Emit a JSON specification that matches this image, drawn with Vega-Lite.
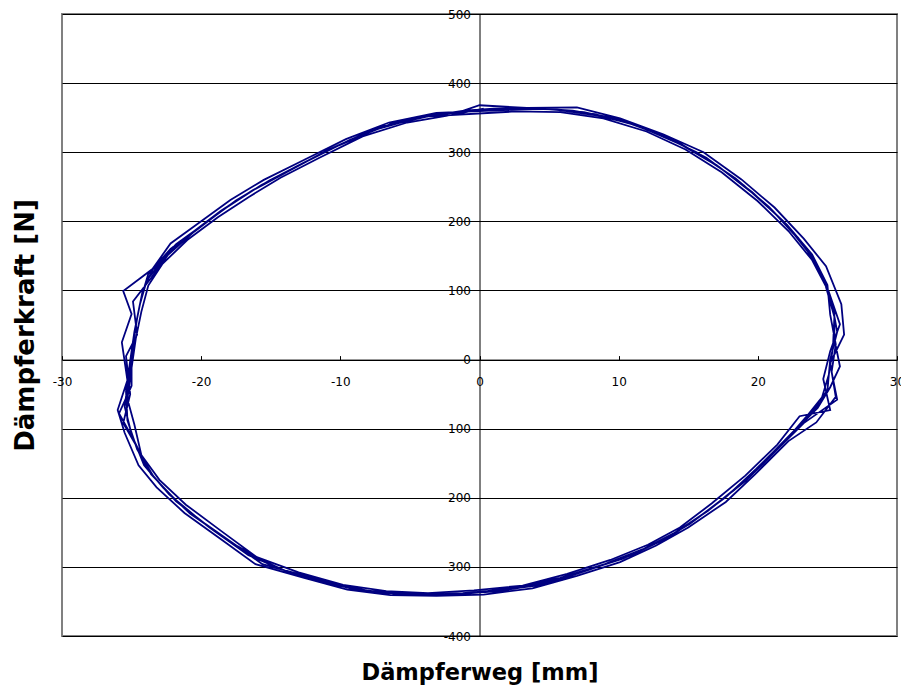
{
  "$schema": "https://vega.github.io/schema/vega-lite/v6.json",
  "width": 835,
  "height": 622,
  "autosize": "none",
  "padding": {"left": 62, "top": 14, "right": 4, "bottom": 54},
  "background": "white",
  "config": {"view": {"stroke": "#808080", "strokeWidth": 2}, "font": "DejaVu Sans"},
  "data": {"values": [
    {"x":0.2,"y":362},{"x":3.6,"y":364},{"x":6.7,"y":360},{"x":9.8,"y":349},{"x":12.9,"y":326},{"x":15.6,"y":300},{"x":18.4,"y":262},{"x":20.8,"y":221},{"x":22.9,"y":176},{"x":24.3,"y":136},{"x":25.3,"y":85},{"x":25.7,"y":40},{"x":25.2,"y":0},{"x":25.0,"y":-45},{"x":23.6,"y":-80},{"x":22.3,"y":-110},{"x":19.9,"y":-158},{"x":17.7,"y":-199},{"x":15.1,"y":-238},{"x":12.9,"y":-264},{"x":10.3,"y":-288},{"x":7.2,"y":-308},{"x":4.1,"y":-327},{"x":0.5,"y":-336},{"x":-2.9,"y":-340},{"x":-6.0,"y":-339},{"x":-9.1,"y":-332},{"x":-12.2,"y":-315},{"x":-15.6,"y":-296},{"x":-18.0,"y":-262},{"x":-20.8,"y":-223},{"x":-22.7,"y":-186},{"x":-24.1,"y":-153},{"x":-25.0,"y":-108},{"x":-25.5,"y":-68},{"x":-25.2,"y":-25},{"x":-24.9,"y":20},{"x":-24.6,"y":60},{"x":-24.2,"y":100},{"x":-23.5,"y":130},{"x":-21.8,"y":167},{"x":-19.6,"y":199},{"x":-17.5,"y":230},{"x":-15.1,"y":259},{"x":-12.5,"y":286},{"x":-9.3,"y":318},{"x":-6.2,"y":342},{"x":-2.9,"y":355},
    {"x":1.9,"y":364},{"x":5.2,"y":362},{"x":8.3,"y":355},{"x":11.4,"y":338},{"x":14.3,"y":314},{"x":17.0,"y":282},{"x":19.6,"y":242},{"x":21.9,"y":199},{"x":23.6,"y":156},{"x":24.8,"y":112},{"x":25.5,"y":62},{"x":25.4,"y":18},{"x":25.1,"y":-22},{"x":24.5,"y":-62},{"x":23.0,"y":-95},{"x":21.1,"y":-134},{"x":18.8,"y":-180},{"x":16.4,"y":-219},{"x":14.0,"y":-251},{"x":11.6,"y":-276},{"x":8.8,"y":-298},{"x":5.6,"y":-318},{"x":2.3,"y":-332},{"x":-1.2,"y":-338},{"x":-4.5,"y":-341},{"x":-7.6,"y":-336},{"x":-10.6,"y":-324},{"x":-13.9,"y":-306},{"x":-16.8,"y":-280},{"x":-19.4,"y":-243},{"x":-21.8,"y":-205},{"x":-23.4,"y":-170},{"x":-24.6,"y":-130},{"x":-25.3,"y":-88},{"x":-25.4,"y":-46},{"x":-25.1,"y":-2},{"x":-24.8,"y":40},{"x":-24.4,"y":80},{"x":-23.9,"y":115},{"x":-22.6,"y":149},{"x":-20.7,"y":183},{"x":-18.6,"y":215},{"x":-16.3,"y":245},{"x":-13.8,"y":272},{"x":-10.9,"y":303},{"x":-7.8,"y":331},{"x":-4.6,"y":349},{"x":-1.3,"y":359},
    {"x":0.0,"y":368},{"x":3.4,"y":364},{"x":7.0,"y":365},{"x":10.1,"y":349},{"x":13.2,"y":326},{"x":16.1,"y":300},{"x":18.8,"y":261},{"x":21.2,"y":220},{"x":23.3,"y":175},{"x":24.9,"y":135},{"x":26.0,"y":80},{"x":26.2,"y":36},{"x":25.2,"y":-5},{"x":25.6,"y":-54},{"x":24.2,"y":-91},{"x":22.2,"y":-118},{"x":19.8,"y":-166},{"x":17.7,"y":-206},{"x":15.0,"y":-243},{"x":12.7,"y":-269},{"x":10.1,"y":-293},{"x":7.0,"y":-313},{"x":3.8,"y":-331},{"x":0.3,"y":-340},{"x":-3.1,"y":-342},{"x":-6.4,"y":-341},{"x":-9.5,"y":-333},{"x":-12.6,"y":-316},{"x":-16.1,"y":-296},{"x":-18.5,"y":-261},{"x":-21.2,"y":-222},{"x":-23.2,"y":-185},{"x":-24.5,"y":-153},{"x":-25.5,"y":-106},{"x":-26.0,"y":-73},{"x":-25.3,"y":-30},{"x":-25.7,"y":25},{"x":-25.0,"y":66},{"x":-25.6,"y":99},{"x":-23.5,"y":131},{"x":-22.2,"y":168},{"x":-20.0,"y":200},{"x":-17.9,"y":231},{"x":-15.5,"y":260},{"x":-12.8,"y":287},{"x":-9.6,"y":319},{"x":-6.5,"y":343},{"x":-3.1,"y":357},
    {"x":1.7,"y":361},{"x":5.0,"y":363},{"x":8.5,"y":353},{"x":11.2,"y":340},{"x":14.5,"y":311},{"x":17.2,"y":279},{"x":19.8,"y":238},{"x":22.1,"y":195},{"x":23.9,"y":152},{"x":25.0,"y":108},{"x":25.2,"y":65},{"x":25.6,"y":22},{"x":25.3,"y":-18},{"x":25.7,"y":-58},{"x":23.3,"y":-92},{"x":21.4,"y":-130},{"x":19.1,"y":-176},{"x":16.6,"y":-216},{"x":14.2,"y":-249},{"x":11.8,"y":-274},{"x":9.0,"y":-296},{"x":5.8,"y":-316},{"x":2.5,"y":-330},{"x":-1.0,"y":-339},{"x":-4.3,"y":-340},{"x":-7.4,"y":-337},{"x":-10.4,"y":-326},{"x":-13.7,"y":-308},{"x":-16.6,"y":-283},{"x":-19.2,"y":-246},{"x":-21.6,"y":-208},{"x":-23.6,"y":-166},{"x":-24.4,"y":-134},{"x":-25.6,"y":-92},{"x":-25.1,"y":-50},{"x":-25.4,"y":5},{"x":-24.6,"y":36},{"x":-24.9,"y":84},{"x":-23.6,"y":118},{"x":-22.4,"y":151},{"x":-20.5,"y":185},{"x":-18.4,"y":217},{"x":-16.1,"y":247},{"x":-13.6,"y":274},{"x":-10.7,"y":305},{"x":-7.6,"y":333},{"x":-4.4,"y":350},{"x":-1.1,"y":360},
    {"x":1.0,"y":363},{"x":4.4,"y":363},{"x":7.5,"y":358},{"x":10.6,"y":344},{"x":13.6,"y":320},{"x":16.3,"y":292},{"x":19.0,"y":252},{"x":21.3,"y":210},{"x":23.3,"y":166},{"x":24.6,"y":124},{"x":25.5,"y":72},{"x":25.5,"y":30},{"x":25.9,"y":-10},{"x":25.2,"y":-40},{"x":24.3,"y":-70},{"x":22.7,"y":-102},{"x":20.5,"y":-148},{"x":18.3,"y":-189},{"x":15.7,"y":-229},{"x":13.5,"y":-258},{"x":10.9,"y":-283},{"x":7.9,"y":-304},{"x":4.9,"y":-324},{"x":1.4,"y":-335},{"x":-2.1,"y":-340},{"x":-5.2,"y":-339},{"x":-8.3,"y":-334},{"x":-11.4,"y":-319},{"x":-14.7,"y":-301},{"x":-17.4,"y":-270},{"x":-20.1,"y":-232},{"x":-22.3,"y":-195},{"x":-23.8,"y":-160},{"x":-24.8,"y":-118},{"x":-25.9,"y":-78},{"x":-25.0,"y":-38},{"x":-25.0,"y":10},{"x":-24.7,"y":50},{"x":-24.3,"y":90},{"x":-23.8,"y":124},{"x":-22.2,"y":160},{"x":-20.1,"y":192},{"x":-18.0,"y":223},{"x":-15.7,"y":252},{"x":-13.1,"y":280},{"x":-10.1,"y":310},{"x":-7.0,"y":337},{"x":-3.7,"y":352},
    {"x":2.6,"y":359},{"x":5.8,"y":358},{"x":8.9,"y":349},{"x":12.0,"y":330},{"x":14.8,"y":304},{"x":17.4,"y":271},{"x":20.0,"y":229},{"x":22.2,"y":186},{"x":23.9,"y":144},{"x":25.1,"y":98},{"x":25.9,"y":51},{"x":25.2,"y":12},{"x":24.7,"y":-28},{"x":25.2,"y":-73},{"x":23.0,"y":-82},{"x":21.4,"y":-123},{"x":19.1,"y":-168},{"x":16.7,"y":-208},{"x":14.4,"y":-243},{"x":12.1,"y":-268},{"x":9.4,"y":-290},{"x":6.3,"y":-310},{"x":3.1,"y":-327},{"x":-0.4,"y":-334},{"x":-3.7,"y":-338},{"x":-6.7,"y":-335},{"x":-9.8,"y":-326},{"x":-13.0,"y":-308},{"x":-16.0,"y":-286},{"x":-18.5,"y":-249},{"x":-21.1,"y":-210},{"x":-23.0,"y":-174},{"x":-24.3,"y":-138},{"x":-24.8,"y":-94},{"x":-25.3,"y":-57},{"x":-25.0,"y":-12},{"x":-24.7,"y":30},{"x":-24.3,"y":69},{"x":-23.8,"y":107},{"x":-22.8,"y":138},{"x":-21.0,"y":173},{"x":-18.8,"y":206},{"x":-16.6,"y":235},{"x":-14.3,"y":263},{"x":-11.5,"y":292},{"x":-8.4,"y":323},{"x":-5.2,"y":343},{"x":-2.0,"y":354},
    {"x":0.3,"y":363}
  ]},
  "mark": {"type": "line", "color": "#000080", "strokeWidth": 1.8},
  "encoding": {
    "order": {"value": null},
    "x": {
      "field": "x", "type": "quantitative",
      "scale": {"domain": [-30, 30], "nice": false, "zero": false},
      "axis": {
        "orient": "bottom", "offset": -276.4,
        "values": [-30, -20, -10, 0, 10, 20, 30], "labelExpr": "toString(datum.value)",
        "grid": false, "tickSize": -4, "tickColor": "#000000", "domainColor": "#000000",
        "labelPadding": 21, "labelFontSize": 12, "labelColor": "#000000", "labelFont": "DejaVu Sans",
        "labelFlush": false, "labelOverlap": false, "labelBaseline": "top", "labelAlign": "center",
        "title": "Dämpferweg [mm]", "titleFont": "DejaVu Sans", "titleFontSize": 22.5, "titleFontWeight": "bold", "titleColor": "#000000",
        "titleX": 417.5, "titleY": 312.4, "titleBaseline": "middle", "titleAlign": "center", "titleAnchor": null
      }
    },
    "y": {
      "field": "y", "type": "quantitative",
      "scale": {"domain": [-400, 500], "nice": false, "zero": false},
      "axis": {
        "orient": "left", "offset": -417.5,
        "values": [-400, -300, -200, -100, 0, 100, 200, 300, 400, 500], "labelExpr": "toString(datum.value)",
        "grid": true, "gridColor": "#000000", "gridWidth": 1, "gridOpacity": 1,
        "tickSize": 4, "tickColor": "#000000", "domainColor": "#000000",
        "labelPadding": 5, "labelFontSize": 12, "labelColor": "#000000", "labelFont": "DejaVu Sans",
        "labelFlush": false, "labelOverlap": false, "labelBaseline": "middle", "labelAlign": "right",
        "title": "Dämpferkraft [N]", "titleFont": "DejaVu Sans", "titleFontSize": 26, "titleFontWeight": "bold", "titleColor": "#000000",
        "titleX": -454.5, "titleY": 311, "titleAngle": 270, "titleBaseline": "middle", "titleAlign": "center", "titleAnchor": null
      }
    }
  }
}
